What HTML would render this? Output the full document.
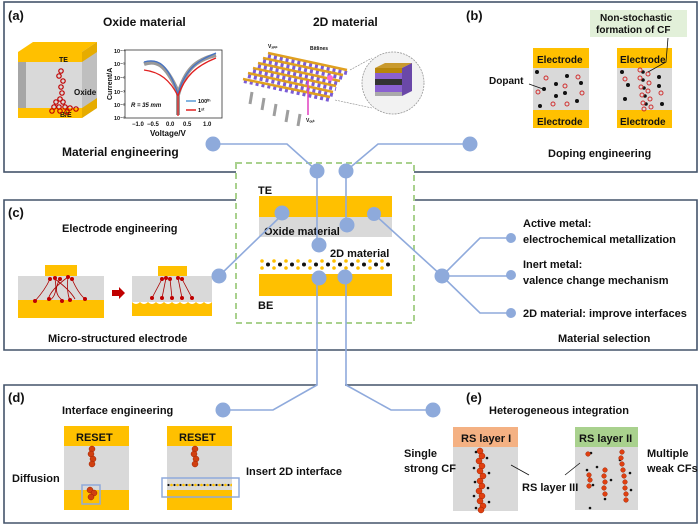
<!DOCTYPE html>
<html><head><meta charset="utf-8"><style>
html,body{margin:0;padding:0;background:#fff}
svg{display:block}
text{font-family:"Liberation Sans",Arial,sans-serif;font-weight:bold;fill:#111}
</style></head><body>
<svg width="700" height="525" viewBox="0 0 700 525" xmlns="http://www.w3.org/2000/svg">
<defs>
<pattern id="dots2d" x="259" y="259" width="12" height="12" patternUnits="userSpaceOnUse">
<circle cx="3" cy="2" r="1.8" fill="#ffc000"/><circle cx="3" cy="9" r="1.8" fill="#ffc000"/><circle cx="9" cy="5.5" r="2" fill="#111"/>
</pattern>
<pattern id="dotsmall" x="167" y="482" width="6" height="6" patternUnits="userSpaceOnUse">
<circle cx="1.5" cy="3" r="1.1" fill="#111"/><circle cx="4.5" cy="3" r="1.3" fill="#ffc000"/>
</pattern>
</defs>
<g fill="none" stroke="#44546a" stroke-width="1.6">
<rect x="4" y="2" width="693" height="170"/>
<path d="M236 200 H4 V350 H697 V200 H414"/>
<path d="M317 385 H4 V523 H697 V385 H345"/>
</g>
<rect x="236" y="163" width="178" height="160" fill="#fff" stroke="#a9d18e" stroke-width="2" stroke-dasharray="6,4"/>

<text x="8" y="20" font-size="13">(a)</text>
<text x="103" y="26" font-size="12">Oxide material</text>
<text x="313" y="26" font-size="12">2D material</text>
<text x="62" y="156" font-size="12">Material engineering</text>
<polygon points="18,52 33,42 97,42 82,52" fill="#ffc000"/>
<rect x="18" y="52" width="64" height="10" fill="#ffc000"/>
<rect x="18" y="62" width="64" height="46" fill="#d9d9d9"/>
<rect x="18" y="62" width="8" height="46" fill="#a6a6a6"/>
<rect x="18" y="108" width="64" height="10" fill="#ffc000"/>
<polygon points="82,52 97,42 97,108 82,118" fill="#bfbfbf"/>
<polygon points="82,52 97,42 97,52 82,62" fill="#e6ac00"/>
<polygon points="82,108 97,98 97,108 82,118" fill="#e6ac00"/>
<text x="59" y="62" font-size="7">TE</text>
<text x="60" y="117" font-size="7">B/E</text>
<text x="74" y="95" font-size="8">Oxide</text>
<g fill="none" stroke="#c00000" stroke-width="1.2">
<circle cx="61" cy="71" r="2.2"/><circle cx="59" cy="76" r="2.2"/><circle cx="63" cy="81" r="2.2"/><circle cx="61" cy="87" r="2.2"/><circle cx="62" cy="93" r="2.2"/><circle cx="60" cy="99" r="2.2"/>
<circle cx="56" cy="102" r="2.2"/><circle cx="63" cy="102" r="2.2"/><circle cx="54" cy="107" r="2.2"/><circle cx="59" cy="107" r="2.2"/><circle cx="65" cy="107" r="2.2"/><circle cx="70" cy="108" r="2.2"/><circle cx="76" cy="109" r="2.2"/><circle cx="52" cy="111" r="2.2"/><circle cx="60" cy="111" r="2.2"/><circle cx="67" cy="112" r="2.2"/>
</g>
<rect x="125" y="50" width="97" height="68" fill="#fff" stroke="#333" stroke-width="0.8"/>
<g font-size="5.5" font-weight="normal"><text x="114" y="53">10⁻⁴</text><text x="114" y="66">10⁻⁵</text><text x="114" y="80">10⁻⁶</text><text x="114" y="94">10⁻⁷</text><text x="114" y="107">10⁻⁸</text><text x="114" y="120">10⁻⁹</text></g>
<text font-size="7" transform="translate(112,100) rotate(-90)">Current/A</text>
<g font-size="6"><text x="132" y="126">−1.0</text><text x="147" y="126">−0.5</text><text x="166" y="126">0.0</text><text x="183" y="126">0.5</text><text x="203" y="126">1.0</text></g>
<text x="150" y="136" font-size="8">Voltage/V</text>
<path d="M144 64 C155 60 165 62 178 92 L178 115 M178 95 C185 70 195 60 216 55" fill="none" stroke="#999" stroke-width="4"/>
<path d="M144 62 C158 58 168 64 178 94 C186 66 200 60 216 53" fill="none" stroke="#4472c4" stroke-width="1.3"/>
<path d="M144 70 C160 72 170 80 178 96 L178 116 M178 96 C185 76 196 66 216 58" fill="none" stroke="#e02020" stroke-width="1.3"/>
<text x="131" y="107" font-size="6" font-style="italic">R = 35 mm</text>
<line x1="186" y1="101" x2="196" y2="101" stroke="#5b9bd5" stroke-width="1.5"/><text x="198" y="103" font-size="5.5">100ᵗʰ</text>
<line x1="186" y1="110" x2="196" y2="110" stroke="#e02020" stroke-width="1.5"/><text x="198" y="112" font-size="5.5">1ˢᵗ</text>
<g stroke="#9e9e9e" stroke-width="3"><line x1="252" y1="92" x2="250" y2="104"/><line x1="264" y1="98" x2="262" y2="110"/><line x1="276" y1="104" x2="274" y2="116"/><line x1="288" y1="110" x2="286" y2="122"/><line x1="300" y1="114" x2="298" y2="126"/></g>
<g stroke="#7b5cd6" stroke-width="4" stroke-dasharray="3,3">
<line x1="268" y1="56" x2="347" y2="73"/><line x1="263" y1="61" x2="343" y2="78"/><line x1="258" y1="66" x2="340" y2="84"/><line x1="253" y1="71" x2="336" y2="89"/><line x1="248" y1="76" x2="333" y2="95"/><line x1="244" y1="81" x2="330" y2="100"/>
</g>
<g stroke="#e0a020" stroke-width="2.5">
<line x1="268" y1="53" x2="347" y2="70"/><line x1="263" y1="58" x2="343" y2="75"/><line x1="258" y1="63" x2="340" y2="81"/><line x1="253" y1="68" x2="336" y2="86"/><line x1="248" y1="73" x2="333" y2="92"/><line x1="243" y1="79" x2="330" y2="97"/>
</g>
<line x1="308" y1="80" x2="308" y2="115" stroke="#e040c0" stroke-width="1.5"/>
<circle cx="330" cy="78" r="3" fill="#f6c"/>
<text x="268" y="48" font-size="5">Vₐₚₚ</text><text x="310" y="50" font-size="5">Bitlines</text><text x="306" y="122" font-size="5">Vₒᵤₜ</text>
<line x1="350" y1="70" x2="372" y2="58" stroke="#888" stroke-width="0.6" stroke-dasharray="2,1"/>
<line x1="335" y1="100" x2="372" y2="108" stroke="#888" stroke-width="0.6" stroke-dasharray="2,1"/>
<circle cx="393" cy="83" r="31" fill="#f2f2f2" stroke="#999" stroke-width="0.8" stroke-dasharray="2,1"/>
<polygon points="375,68 385,63 412,63 402,68" fill="#c99a2e"/>
<rect x="375" y="68" width="27" height="5" fill="#b8860b"/>
<rect x="375" y="73" width="27" height="6" fill="#8a60d0"/>
<rect x="375" y="79" width="27" height="6" fill="#333"/>
<rect x="375" y="85" width="27" height="7" fill="#8a60d0"/>
<rect x="375" y="92" width="27" height="4" fill="#aaa"/>
<polygon points="402,68 412,63 412,91 402,96" fill="#6a48a8"/>
<text x="466" y="20" font-size="13">(b)</text>
<rect x="590" y="10" width="97" height="27" fill="#e2f0d9"/>
<text x="600" y="21" font-size="10">Non-stochastic</text>
<text x="596" y="33" font-size="10">formation of CF</text>
<g>
<rect x="533" y="48" width="56" height="20" fill="#ffc000"/><rect x="533" y="68" width="56" height="42" fill="#d9d9d9"/><rect x="533" y="110" width="56" height="18" fill="#ffc000"/>
<text x="537" y="63" font-size="10">Electrode</text><text x="537" y="125" font-size="10">Electrode</text>
<rect x="617" y="48" width="55" height="20" fill="#ffc000"/><rect x="617" y="68" width="55" height="42" fill="#d9d9d9"/><rect x="617" y="110" width="55" height="18" fill="#ffc000"/>
<text x="620" y="63" font-size="10">Electrode</text><text x="620" y="125" font-size="10">Electrode</text>
</g>
<g fill="#111"><circle cx="537" cy="72" r="2"/><circle cx="567" cy="76" r="2"/><circle cx="581" cy="83" r="2"/><circle cx="556" cy="84" r="2"/><circle cx="544" cy="89" r="2"/><circle cx="565" cy="93" r="2"/><circle cx="556" cy="96" r="2"/><circle cx="577" cy="101" r="2"/><circle cx="540" cy="106" r="2"/>
<circle cx="622" cy="72" r="2"/><circle cx="628" cy="85" r="2"/><circle cx="625" cy="99" r="2"/><circle cx="659" cy="77" r="2"/><circle cx="659" cy="86" r="2"/><circle cx="662" cy="104" r="2"/>
<circle cx="643" cy="72" r="1.8"/><circle cx="643" cy="80" r="1.8"/><circle cx="644" cy="88" r="1.8"/><circle cx="645" cy="96" r="1.8"/><circle cx="646" cy="104" r="1.8"/></g>
<g fill="none" stroke="#d03030" stroke-width="1"><circle cx="546" cy="78" r="2"/><circle cx="578" cy="77" r="2"/><circle cx="565" cy="86" r="2"/><circle cx="538" cy="92" r="2"/><circle cx="582" cy="93" r="2"/><circle cx="553" cy="104" r="2"/><circle cx="567" cy="104" r="2"/><circle cx="625" cy="79" r="2"/><circle cx="661" cy="93" r="2"/>
<circle cx="640" cy="70" r="2"/><circle cx="648" cy="74" r="2"/><circle cx="640" cy="78" r="2"/><circle cx="649" cy="83" r="2"/><circle cx="641" cy="87" r="2"/><circle cx="648" cy="91" r="2"/><circle cx="642" cy="95" r="2"/><circle cx="650" cy="99" r="2"/><circle cx="643" cy="103" r="2"/><circle cx="651" cy="107" r="2"/><circle cx="644" cy="109" r="2"/></g>
<text x="489" y="84" font-size="10">Dopant</text>
<line x1="529" y1="84" x2="543" y2="89" stroke="#111" stroke-width="0.8"/>
<path d="M668 38 L666 62 L648 72" fill="none" stroke="#111" stroke-width="0.8"/>
<text x="548" y="157" font-size="11">Doping engineering</text>

<text x="258" y="194" font-size="11">TE</text>
<rect x="259" y="196" width="133" height="21" fill="#ffc000"/>
<rect x="259" y="217" width="133" height="20" fill="#d9d9d9"/>
<text x="264" y="235" font-size="11">Oxide material</text>
<text x="330" y="257" font-size="11">2D material</text>
<rect x="259" y="259" width="133" height="12" fill="url(#dots2d)"/>
<rect x="259" y="274" width="133" height="22" fill="#ffc000"/>
<text x="258" y="309" font-size="11">BE</text>

<text x="8" y="217" font-size="13">(c)</text>
<text x="62" y="232" font-size="11">Electrode engineering</text>
<text x="48" y="342" font-size="11">Micro-structured electrode</text>
<rect x="45" y="265" width="32" height="11" fill="#ffc000"/>
<rect x="18" y="276" width="86" height="24" fill="#d9d9d9"/>
<rect x="18" y="300" width="86" height="18" fill="#ffc000"/>
<g stroke="#a00" stroke-width="0.8" fill="none"><path d="M50 279 Q45 290 35 301 M55 279 Q58 295 50 300 M60 279 Q52 292 62 300 M68 277 Q66 290 70 301 M72 279 Q78 293 85 299 M55 279 Q70 290 75 299 M68 277 Q50 290 48 300"/></g>
<g fill="#c00000"><circle cx="50" cy="279" r="2"/><circle cx="55" cy="278" r="2"/><circle cx="60" cy="279" r="2"/><circle cx="68" cy="277" r="2"/><circle cx="72" cy="279" r="2"/><circle cx="35" cy="301" r="2"/><circle cx="49" cy="299" r="2"/><circle cx="62" cy="301" r="2"/><circle cx="70" cy="300" r="2"/><circle cx="85" cy="299" r="2"/></g>
<polygon points="112,290 119,290 119,287 125,293 119,299 119,296 112,296" fill="#c00000"/>
<rect x="158" y="266" width="29" height="10" fill="#ffc000"/>
<rect x="132" y="276" width="80" height="26" fill="#d9d9d9"/>
<path d="M132 302 q4 4 8 0 q4 4 8 0 q4 4 8 0 q4 4 8 0 q4 4 8 0 q4 4 8 0 q4 4 8 0 q4 4 8 0 q4 4 8 0 q4 4 8 0 V316 H132 Z" fill="#ffc000"/>
<g stroke="#a00" stroke-width="0.8"><line x1="162" y1="279" x2="152" y2="298"/><line x1="166" y1="278" x2="162" y2="298"/><line x1="170" y1="279" x2="172" y2="298"/><line x1="178" y1="278" x2="182" y2="298"/><line x1="182" y1="279" x2="192" y2="298"/></g>
<g fill="#c00000"><circle cx="162" cy="279" r="2"/><circle cx="166" cy="278" r="2"/><circle cx="170" cy="279" r="2"/><circle cx="178" cy="278" r="2"/><circle cx="182" cy="279" r="2"/><circle cx="152" cy="298" r="2"/><circle cx="162" cy="298" r="2"/><circle cx="172" cy="298" r="2"/><circle cx="182" cy="298" r="2"/><circle cx="192" cy="298" r="2"/></g>
<g font-size="11"><text x="523" y="227">Active metal:</text><text x="523" y="243">electrochemical metallization</text><text x="523" y="268">Inert metal:</text><text x="523" y="284">valence change mechanism</text><text x="523" y="317">2D material: improve interfaces</text><text x="558" y="342">Material selection</text></g>

<text x="8" y="402" font-size="13">(d)</text>
<text x="62" y="414" font-size="11">Interface engineering</text>
<text x="12" y="482" font-size="11">Diffusion</text>
<rect x="64" y="426" width="65" height="20" fill="#ffc000"/><rect x="64" y="446" width="65" height="44" fill="#d9d9d9"/><rect x="64" y="490" width="65" height="20" fill="#ffc000"/>
<text x="76" y="441" font-size="11">RESET</text>
<rect x="167" y="426" width="65" height="20" fill="#ffc000"/><rect x="167" y="446" width="65" height="44" fill="#d9d9d9"/><rect x="167" y="482" width="65" height="5" fill="url(#dotsmall)"/><rect x="167" y="490" width="65" height="20" fill="#ffc000"/>
<text x="179" y="441" font-size="11">RESET</text>
<g fill="#d04010" stroke="#a02000" stroke-width="0.5"><circle cx="92" cy="449" r="3"/><circle cx="91" cy="454" r="3"/><circle cx="93" cy="459" r="3"/><circle cx="92" cy="464" r="3"/><circle cx="90" cy="490" r="3"/><circle cx="94" cy="493" r="3"/><circle cx="91" cy="497" r="3"/>
<circle cx="195" cy="449" r="3"/><circle cx="194" cy="454" r="3"/><circle cx="196" cy="459" r="3"/><circle cx="195" cy="464" r="3"/></g>
<rect x="82" y="485" width="18" height="19" fill="none" stroke="#8faadc" stroke-width="1.5"/>
<rect x="162" y="478" width="77" height="19" fill="none" stroke="#8faadc" stroke-width="1.5"/>
<text x="246" y="475" font-size="11">Insert 2D interface</text>

<text x="466" y="402" font-size="13">(e)</text>
<text x="489" y="414" font-size="11">Heterogeneous integration</text>
<rect x="453" y="427" width="65" height="20" fill="#f4b183"/><rect x="453" y="447" width="65" height="64" fill="#d9d9d9"/>
<text x="461" y="442" font-size="11">RS layer I</text>
<rect x="575" y="427" width="63" height="20" fill="#a9d18e"/><rect x="575" y="447" width="63" height="63" fill="#d9d9d9"/>
<text x="579" y="442" font-size="11">RS layer II</text>
<g fill="#111"><circle cx="476" cy="452" r="1.3"/><circle cx="487" cy="458" r="1.3"/><circle cx="474" cy="468" r="1.3"/><circle cx="489" cy="473" r="1.3"/><circle cx="475" cy="482" r="1.3"/><circle cx="488" cy="488" r="1.3"/><circle cx="474" cy="496" r="1.3"/><circle cx="489" cy="502" r="1.3"/><circle cx="476" cy="508" r="1.3"/>
<circle cx="591" cy="453" r="1.3"/><circle cx="587" cy="470" r="1.3"/><circle cx="593" cy="485" r="1.3"/><circle cx="597" cy="467" r="1.3"/><circle cx="611" cy="480" r="1.3"/><circle cx="620" cy="460" r="1.3"/><circle cx="630" cy="473" r="1.3"/><circle cx="631" cy="490" r="1.3"/><circle cx="590" cy="508" r="1.3"/><circle cx="605" cy="499" r="1.3"/></g>
<g fill="#e04010" stroke="#a02000" stroke-width="0.5">
<circle cx="480" cy="451" r="3"/><circle cx="482" cy="456" r="3"/><circle cx="479" cy="461" r="3"/><circle cx="482" cy="466" r="3"/><circle cx="480" cy="471" r="3"/><circle cx="483" cy="476" r="3"/><circle cx="480" cy="481" r="3"/><circle cx="482" cy="486" r="3"/><circle cx="479" cy="491" r="3"/><circle cx="482" cy="496" r="3"/><circle cx="480" cy="501" r="3"/><circle cx="483" cy="506" r="3"/><circle cx="481" cy="510" r="3"/>
<circle cx="588" cy="454" r="2.3"/><circle cx="589" cy="475" r="2.3"/><circle cx="590" cy="480" r="2.3"/><circle cx="589" cy="486" r="2.3"/><circle cx="605" cy="470" r="2.3"/><circle cx="604" cy="476" r="2.3"/><circle cx="605" cy="482" r="2.3"/><circle cx="604" cy="488" r="2.3"/><circle cx="605" cy="494" r="2.3"/>
<circle cx="622" cy="452" r="2.3"/><circle cx="621" cy="458" r="2.3"/><circle cx="622" cy="464" r="2.3"/><circle cx="623" cy="470" r="2.3"/><circle cx="624" cy="476" r="2.3"/><circle cx="625" cy="482" r="2.3"/><circle cx="625" cy="488" r="2.3"/><circle cx="626" cy="494" r="2.3"/><circle cx="626" cy="500" r="2.3"/></g>
<text x="404" y="457" font-size="11">Single</text><text x="404" y="472" font-size="11">strong CF</text>
<text x="522" y="491" font-size="11">RS layer III</text>
<text x="647" y="457" font-size="11">Multiple</text><text x="647" y="472" font-size="11">weak CFs</text>
<line x1="511" y1="465" x2="529" y2="475" stroke="#111" stroke-width="0.8"/>
<line x1="565" y1="475" x2="580" y2="463" stroke="#111" stroke-width="0.8"/>

<g fill="none" stroke="#8faadc" stroke-width="1.6">
<path d="M213 144 H287 L317 171"/>
<path d="M470 144 H378 L346 171"/>
<path d="M317 171 V245 M317 278 V385 L273 410 H223"/>
<path d="M346 171 V225 M346 277 V385 L391 410 H433"/>
<path d="M283 214 L219 276"/>
<path d="M374 214 L442 276 L480 238 H511 M442 276 H511 M442 276 L480 313 H511"/>
</g>
<g fill="#8eaadb">
<circle cx="213" cy="144" r="7.5"/><circle cx="470" cy="144" r="7.5"/>
<circle cx="317" cy="171" r="7.5"/><circle cx="346" cy="171" r="7.5"/>
<circle cx="282" cy="213" r="7.5"/><circle cx="347" cy="225" r="7.5"/><circle cx="374" cy="214" r="7"/>
<circle cx="319" cy="245" r="7.5"/><circle cx="319" cy="278" r="7.5"/><circle cx="345" cy="277" r="7.5"/>
<circle cx="219" cy="276" r="7.5"/><circle cx="442" cy="276" r="7.5"/>
<circle cx="511" cy="238" r="5"/><circle cx="511" cy="275" r="5"/><circle cx="511" cy="313" r="5"/>
<circle cx="223" cy="410" r="7.5"/><circle cx="433" cy="410" r="7.5"/>
</g>
</svg>
</body></html>
